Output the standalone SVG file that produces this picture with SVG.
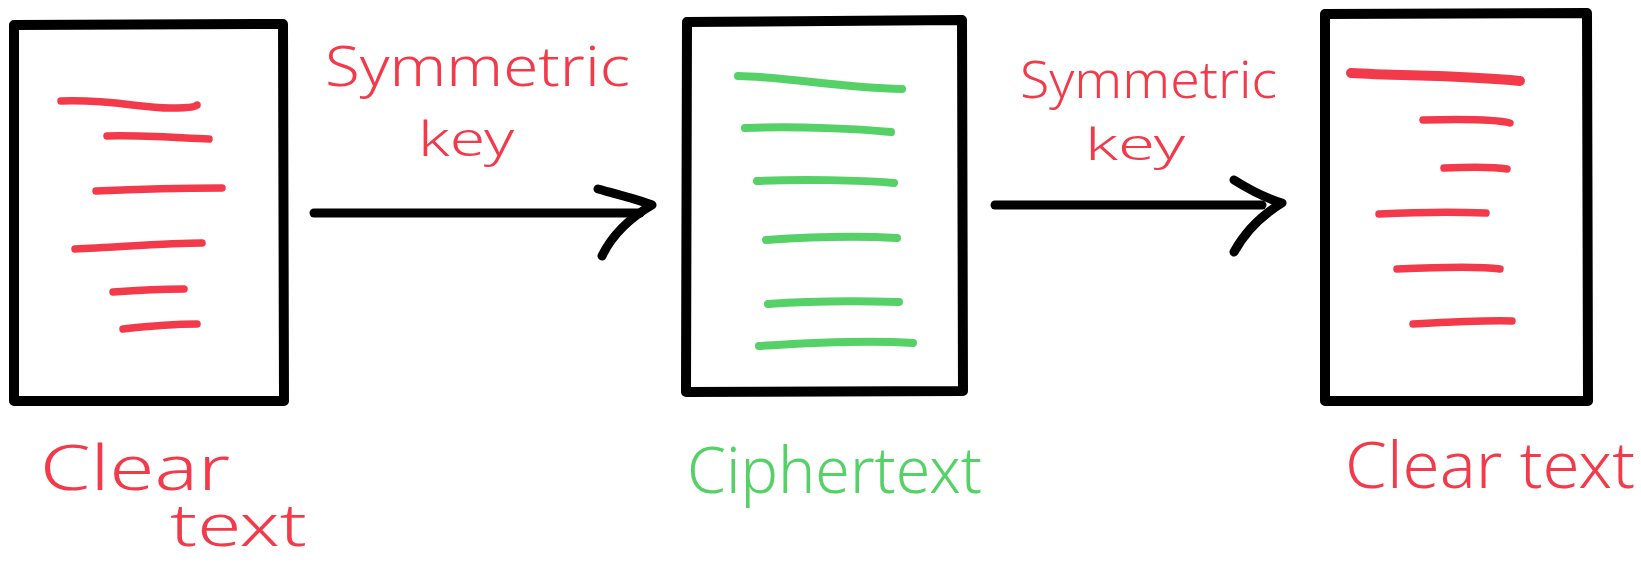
<svg xmlns="http://www.w3.org/2000/svg" width="1641" height="566" viewBox="0 0 1641 566">
  <style>
    .frame { fill: none; stroke: #000; stroke-width: 10; stroke-linejoin: round; stroke-linecap: round; }
    .conn { fill: none; stroke: #000; stroke-width: 9; stroke-linecap: round; stroke-linejoin: round; }
    .red { fill: none; stroke: #f23a4b; stroke-width: 7.5; stroke-linecap: round; }
    .green { fill: none; stroke: #55d168; stroke-width: 8; stroke-linecap: round; }
    .hand { font-family: "Noto Sans", "DejaVu Sans", sans-serif; font-weight: 300; }
    .hand-red { fill: #f23a4b; }
    .hand-green { fill: #55d168; }
  </style>

  <rect width="1641" height="566" fill="#fff"/>

  <!-- Plaintext document -->
  <g id="clear-doc-1">
    <path class="frame" d="M14,25 L283,24 L284,401 L14,401 Z"/>
    <path class="red" d="M61,101 C110,99 140,108 170,108 S196,105 197,105"/>
    <path class="red" d="M107,136 C140,135 180,138 209,139"/>
    <path class="red" d="M96,191 C140,189 190,188 222,188"/>
    <path class="red" d="M75,249 C120,247 170,243 202,243"/>
    <path class="red" d="M113,292 C140,290 165,289 184,289"/>
    <path class="red" d="M123,329 C150,326 180,324 197,324"/>
  </g>

  <!-- Encrypted document -->
  <g id="cipher-doc">
    <path class="frame" d="M687,22 L962,20 L963,391 L686,392 Z"/>
    <path class="green" d="M738,76 C790,77 840,88 902,89"/>
    <path class="green" d="M745,128 C800,126 860,129 891,132"/>
    <path class="green" d="M757,181 C800,179 860,180 894,183"/>
    <path class="green" d="M766,240 C810,237 860,236 897,238"/>
    <path class="green" d="M768,304 C810,301 860,301 899,302"/>
    <path class="green" d="M759,346 C820,342 870,340 913,343"/>
  </g>

  <!-- Decrypted document -->
  <g id="clear-doc-2">
    <path class="frame" d="M1325,14 L1587,13 L1588,401 L1325,401 Z"/>
    <path class="red" style="stroke-width:10" d="M1351,73 C1400,76 1460,75 1520,81"/>
    <path class="red" d="M1423,120 C1460,119 1495,119 1510,123"/>
    <path class="red" d="M1444,168 C1470,167 1495,167 1507,169"/>
    <path class="red" d="M1379,214 C1420,212 1460,212 1486,213"/>
    <path class="red" d="M1397,269 C1440,267 1480,266 1500,269"/>
    <path class="red" d="M1413,324 C1450,322 1490,320 1512,321"/>
  </g>

  <!-- Connectors -->
  <g id="connectors">
    <path class="conn" d="M314,213 L640,213"/>
    <path class="conn" d="M598,189 C620,195 640,200 652,205 C630,218 612,235 602,256"/>
    <path class="conn" d="M995,205 L1262,205"/>
    <path class="conn" d="M1234,180 C1250,190 1265,198 1282,203 C1262,215 1245,232 1234,252"/>
  </g>

  <!-- Connector labels -->
  <g id="label-key-1">
    <text class="hand hand-red" x="325" y="86" font-size="56" textLength="305" lengthAdjust="spacingAndGlyphs">Symmetric</text>
    <text class="hand hand-red" x="418" y="156" font-size="48" textLength="96" lengthAdjust="spacingAndGlyphs">key</text>
  </g>
  <g id="label-key-2">
    <text class="hand hand-red" x="1085" y="160" font-size="44" textLength="100" lengthAdjust="spacingAndGlyphs">key</text>
    <text class="hand hand-red" x="1020" y="98" font-size="52" textLength="257" lengthAdjust="spacingAndGlyphs">Symmetric</text>
  </g>

  <!-- Document captions -->
  <g id="caption-clear-1">
    <text class="hand hand-red" x="40" y="490" font-size="62" textLength="190" lengthAdjust="spacingAndGlyphs">Clear</text>
    <text class="hand hand-red" x="170" y="546" font-size="58" textLength="137" lengthAdjust="spacingAndGlyphs">text</text>
  </g>
  <g id="caption-cipher">
    <text class="hand hand-green" x="687" y="493" font-size="64" textLength="295" lengthAdjust="spacingAndGlyphs">Ciphertext</text>
  </g>
  <g id="caption-clear-2">
    <text class="hand hand-red" x="1345" y="488" font-size="64" textLength="290" lengthAdjust="spacingAndGlyphs">Clear text</text>
  </g>
</svg>
